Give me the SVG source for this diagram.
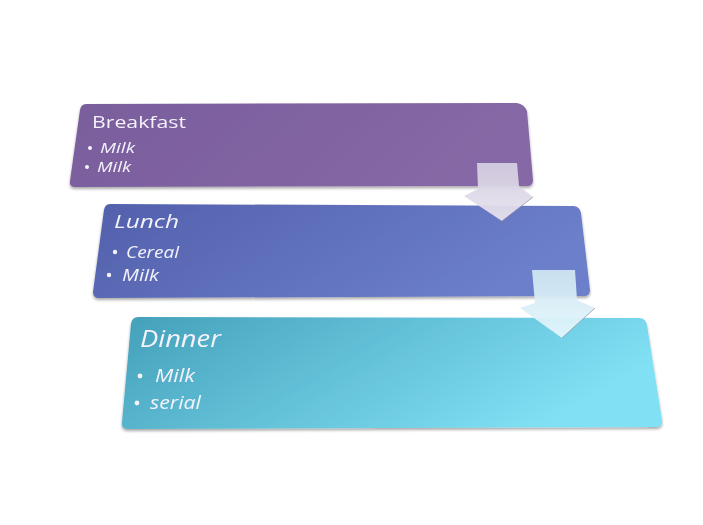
<svg xmlns="http://www.w3.org/2000/svg" width="703" height="525" viewBox="0 0 703 525">
<defs>
<linearGradient id="gB" x1="0" y1="0" x2="1" y2="0.2">
<stop offset="0" stop-color="#795D9C"/><stop offset="1" stop-color="#8768A6"/>
</linearGradient>
<linearGradient id="gL" x1="0" y1="0" x2="1" y2="0.3">
<stop offset="0" stop-color="#5360AC"/><stop offset="1" stop-color="#6C7FCA"/>
</linearGradient>
<linearGradient id="gD" x1="0" y1="0" x2="1" y2="0.35">
<stop offset="0" stop-color="#44A0BA"/><stop offset="1" stop-color="#80E0F4"/>
</linearGradient>
<linearGradient id="gA1" x1="0" y1="0" x2="0" y2="1">
<stop offset="0" stop-color="#D4CEE0"/><stop offset="1" stop-color="#E6E2EE"/>
</linearGradient>
<linearGradient id="gA2" x1="0" y1="0" x2="0" y2="1">
<stop offset="0" stop-color="#CFE6F2"/><stop offset="1" stop-color="#E4F6FC"/>
</linearGradient>
<filter id="sh" x="-5%" y="-10%" width="110%" height="130%">
<feGaussianBlur in="SourceAlpha" stdDeviation="1.5"/>
<feOffset dx="0" dy="2"/>
<feComponentTransfer><feFuncA type="linear" slope="0.35"/></feComponentTransfer>
<feMerge><feMergeNode/><feMergeNode in="SourceGraphic"/></feMerge>
</filter>
</defs>
<style>
.t{font-family:"Open Sans","Noto Sans","DejaVu Sans",sans-serif;fill:#F4F2FA;}
.h{font-style:normal;}
.i{font-style:italic;}
.bul{fill:#F4F2FA;}
.edge{fill:none;stroke:#8E8C9E;stroke-width:1;opacity:0.7;}
</style>
<rect width="703" height="525" fill="#FFFFFF"/>
<g id="breakfast" filter="url(#sh)">
<path d="M86,104 L517,103 Q524,104 527,111 L533,180 Q533,186 527,186 L75,187 Q69,187 70,181 L80,110 Q81,104 86,104 Z" fill="url(#gB)"/>
<text class="t h" x="92" y="128" font-size="17" textLength="94" lengthAdjust="spacingAndGlyphs">Breakfast</text>
<circle class="bul" cx="90" cy="148" r="2"/>
<text class="t i" x="100" y="153" font-size="14" textLength="35" lengthAdjust="spacingAndGlyphs">Milk</text>
<circle class="bul" cx="87" cy="167" r="2"/>
<text class="t i" x="97" y="172" font-size="14" textLength="34" lengthAdjust="spacingAndGlyphs">Milk</text>
</g>
<g id="lunch" filter="url(#sh)">
<path d="M110,204 L574,206 Q580,207 581,213 L590,290 Q590,296 584,296 L99,298 Q93,298 93,292 L104,210 Q105,204 110,204 Z" fill="url(#gL)"/>
<text class="t i" x="114" y="228" font-size="19" textLength="65" lengthAdjust="spacingAndGlyphs">Lunch</text>
<circle class="bul" cx="115" cy="252" r="2.2"/>
<text class="t i" x="126" y="258" font-size="16" textLength="53" lengthAdjust="spacingAndGlyphs">Cereal</text>
<circle class="bul" cx="109" cy="275" r="2.2"/>
<text class="t i" x="122" y="281" font-size="16" textLength="37" lengthAdjust="spacingAndGlyphs">Milk</text>
</g>
<g id="dinner" filter="url(#sh)">
<path d="M138,317 L640,318 Q646,319 647,325 L662,420 Q663,427 656,427 L128,429 Q121,429 122,422 L131,324 Q132,317 138,317 Z" fill="url(#gD)"/>
<text class="t i" x="140" y="347" font-size="23" textLength="81" lengthAdjust="spacingAndGlyphs">Dinner</text>
<circle class="bul" cx="140" cy="376" r="2.4"/>
<text class="t i" x="155" y="382" font-size="18" textLength="40" lengthAdjust="spacingAndGlyphs">Milk</text>
<circle class="bul" cx="137" cy="403" r="2.4"/>
<text class="t i" x="150" y="409" font-size="18" textLength="51" lengthAdjust="spacingAndGlyphs">serial</text>
</g>
<g id="connectors">
<path d="M477,163 L517,163 L519,186 L533,197 L502,221 L464,196 L478,189 Z" fill="url(#gA1)" opacity="0.94"/>
<path class="edge" d="M533,197 L502,221"/>
<path d="M532,270 L575,270 L577,300 L595,308 L562,338 L520,308 L535,303 Z" fill="url(#gA2)" opacity="0.94"/>
<path class="edge" d="M595,308 L562,338"/>
</g>
</svg>
